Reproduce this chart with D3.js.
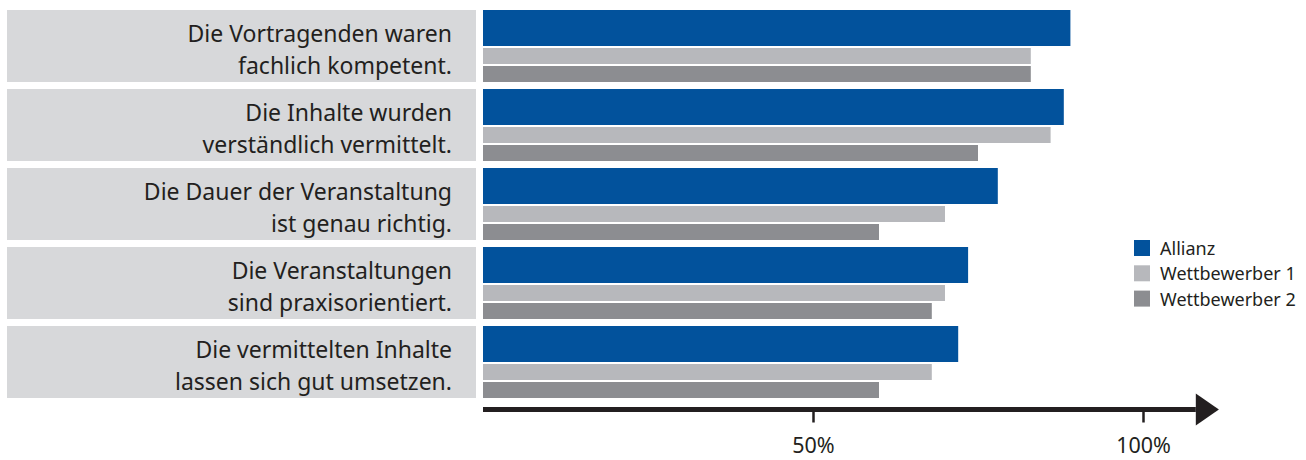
<!DOCTYPE html>
<html>
<head>
<meta charset="utf-8">
<script src="https://cdn.jsdelivr.net/npm/d3@7"></script>
<style>
  body { margin: 0; background: #fff; }
  text { font-family: "Noto Sans", sans-serif; fill: #231f20; }
</style>
</head>
<body>
<div id="chart"></div>
<script>
var width = 1306;
var height = 460;

// data
var questions = [
  ["Die Vortragenden waren", "fachlich kompetent."],
  ["Die Inhalte wurden", "verständlich vermittelt."],
  ["Die Dauer der Veranstaltung", "ist genau richtig."],
  ["Die Veranstaltungen", "sind praxisorientiert."],
  ["Die vermittelten Inhalte", "lassen sich gut umsetzen."]
];
var seriesNames = ["Allianz", "Wettbewerber 1", "Wettbewerber 2"];
var allianz = [89, 88, 78, 73.5, 72];
var wettbewerber1 = [83, 86, 70, 70, 68];
var wettbewerber2 = [83, 75, 60, 68, 60];
var tickValues = [50, 100];

var colors = ["#02529c", "#b7b8bc", "#8c8d91"];
var series = [allianz, wettbewerber1, wettbewerber2];

var svg = d3.select("#chart")
            .append("svg")
            .attr("width", width)
            .attr("height", height);

var xScale = d3.scaleLinear()
               .domain([0, 100])
               .range([483, 1143]);

var rowScale = d3.scaleBand()
                 .domain(d3.range(questions.length))
                 .range([10, 398])
                 .paddingInner(7 / 79);

var bw = rowScale.bandwidth();
// sub bars inside a row: big blue one, then two thin grey ones
var subY = [0, bw * 38 / 72, bw * 56 / 72];
var subH = [bw * 36 / 72, bw * 16 / 72, bw * 16 / 72];

// grey label boxes
var rows = svg.selectAll(".row")
              .data(questions)
              .enter()
              .append("g")
              .attr("class", "row")
              .attr("transform", function(d, i){ return "translate(0," + rowScale(i) + ")"; });

rows.append("rect")
    .attr("x", 7)
    .attr("width", 469)
    .attr("height", bw)
    .attr("fill", "#d7d8da");

rows.append("text")
    .attr("x", 452)
    .attr("y", bw / 2 - 4)
    .attr("text-anchor", "end")
    .style("font-size", "23px")
    .text(function(d){ return d[0]; });

rows.append("text")
    .attr("x", 452)
    .attr("y", bw / 2 + 27.5)
    .attr("text-anchor", "end")
    .style("font-size", "23px")
    .text(function(d){ return d[1]; });

// bars
series.forEach(function(s, k){
  svg.selectAll(".bar" + k)
     .data(s)
     .enter()
     .append("rect")
     .attr("class", "bar" + k)
     .attr("x", xScale(0))
     .attr("y", function(d, i){ return rowScale(i) + subY[k]; })
     .attr("width", function(d){ return xScale(d) - xScale(0); })
     .attr("height", subH[k])
     .attr("fill", colors[k]);
});

// axis with arrow
var axisY = 409.5;
svg.append("line")
   .attr("x1", xScale(0))
   .attr("x2", xScale(108))
   .attr("y1", axisY)
   .attr("y2", axisY)
   .attr("stroke", "#231f20")
   .attr("stroke-width", 5);

svg.append("path")
   .attr("d", "M" + xScale(108) + "," + (axisY - 16) +
              "L" + xScale(111.5) + "," + axisY +
              "L" + xScale(108) + "," + (axisY + 16) + "Z")
   .attr("fill", "#231f20");

var xAxis = d3.axisBottom()
              .scale(xScale)
              .tickValues(tickValues)
              .tickSize(11)
              .tickFormat(function(d){ return d + "%"; });

var gx = svg.append("g")
            .attr("class", "x-Axis")
            .attr("transform", "translate(0," + (axisY + 2) + ")")
            .call(xAxis);
gx.select(".domain").remove();
gx.selectAll(".tick line")
  .attr("stroke", "#231f20")
  .attr("stroke-width", 2.5);
gx.selectAll(".tick text")
  .attr("y", 41.5)
  .attr("dy", 0)
  .attr("fill", "#231f20")
  .style("font-size", "21.5px")
  .style("font-family", "'Noto Sans', sans-serif");

// legend
var legend = svg.selectAll(".legend")
                .data(seriesNames)
                .enter()
                .append("g")
                .attr("class", "legend")
                .attr("transform", function(d, i){ return "translate(1134," + (240 + i * 25.3) + ")"; });

legend.append("rect")
      .attr("width", 16)
      .attr("height", 16)
      .attr("fill", function(d, i){ return colors[i]; });

legend.append("text")
      .attr("x", 26)
      .attr("y", 15)
      .style("font-size", "18px")
      .text(function(d){ return d; });
</script>
</body>
</html>
